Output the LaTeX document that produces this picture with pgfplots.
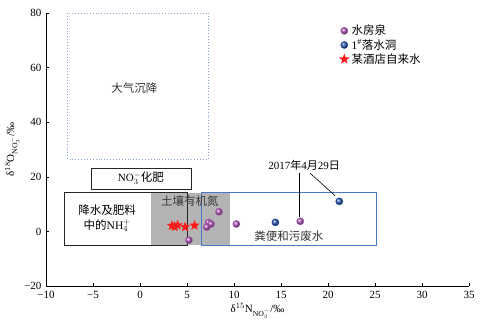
\documentclass[border=0pt]{standalone}
\usepackage{pgfplots}
\pgfplotsset{compat=1.18}
\usepackage{fontspec}
\setmainfont{Liberation Serif}
\newfontfamily\cjk{Noto Sans CJK SC}
\definecolor{pur}{HTML}{B05CB8}
\definecolor{blu}{HTML}{2A58B0}
\definecolor{boxblue}{HTML}{4A78C8}
\definecolor{dotblue}{HTML}{8AA4D4}
\definecolor{grayfill}{HTML}{B4B4B4}
\pgfdeclareplotmark{fstar}{%
 \pgfpathmoveto{\pgfpointpolar{90}{\pgfplotmarksize}}%
 \pgfpathlineto{\pgfpointpolar{126}{0.42\pgfplotmarksize}}%
 \pgfpathlineto{\pgfpointpolar{162}{\pgfplotmarksize}}%
 \pgfpathlineto{\pgfpointpolar{198}{0.42\pgfplotmarksize}}%
 \pgfpathlineto{\pgfpointpolar{234}{\pgfplotmarksize}}%
 \pgfpathlineto{\pgfpointpolar{270}{0.42\pgfplotmarksize}}%
 \pgfpathlineto{\pgfpointpolar{306}{\pgfplotmarksize}}%
 \pgfpathlineto{\pgfpointpolar{342}{0.42\pgfplotmarksize}}%
 \pgfpathlineto{\pgfpointpolar{18}{\pgfplotmarksize}}%
 \pgfpathlineto{\pgfpointpolar{54}{0.42\pgfplotmarksize}}%
 \pgfpathclose\pgfusepathqfill}
\begin{document}
\begin{tikzpicture}
\begin{axis}[
 width=423pt, height=273pt, scale only axis,
 xmin=-10, xmax=35, ymin=-20, ymax=80,
 axis x line*=bottom, axis y line*=left,
 axis line style={black, line width=0.6pt},
 xtick={-10,-5,...,35}, xticklabels={−10,−5,0,5,10,15,20,25,30,35},
 ytick={-20,0,...,80}, yticklabels={−20,0,20,40,60,80},
 tick align=inside, major tick length=3pt,
 tick style={black, line width=0.6pt},
 font=\fontsize{11}{13}\selectfont,
 xticklabel style={yshift=-2pt},
 yticklabel style={xshift=-1pt},
 xlabel={δ$^{15}$N$_{\mathrm{NO}_3^-}$/‰},
 ylabel={δ$^{18}$O$_{\mathrm{NO}_3^-}$/‰},
 xlabel style={yshift=2pt},
 ylabel style={yshift=-2pt},
 legend style={draw=none, fill=none, at={(0.69,0.967)}, anchor=north west,
   font=\fontsize{11.5}{13}\selectfont, row sep=-1pt, inner sep=1pt},
 legend cell align=left,
 clip=false
]
% regions
\fill[grayfill] (axis cs:1.2,-5) rectangle (axis cs:9.6,14.2);
\draw[dotblue, line width=0.9pt, dotted] (axis cs:-7.7,26.5) rectangle (axis cs:7.3,80);
\draw[black!85, line width=0.8pt] (axis cs:-5.2,15.5) rectangle (axis cs:5.5,23.2);
\draw[black!85, line width=0.8pt] (axis cs:-8,-5) rectangle (axis cs:5.0,14.2);
\draw[boxblue, line width=0.8pt] (axis cs:6.5,-5) rectangle (axis cs:25.2,14.2);
% annotation lines
\draw[black, line width=0.6pt] (axis cs:16.95,21.3) -- (axis cs:16.95,5.4);
\draw[black, line width=0.6pt] (axis cs:18.1,21.3) -- (axis cs:20.75,13.1);
% labels
\node[font=\cjk\fontsize{11.5}{13}\selectfont, text=black!80] at (axis cs:-0.6,52.5) {大气沉降};
\node[font=\fontsize{11}{13}\selectfont] at (axis cs:0.1,19.4) {NO$_3^-${\cjk\fontsize{11.5}{13}\selectfont 化肥}};
\node[font=\fontsize{11.5}{15}\selectfont, align=center] at (axis cs:-3.5,4.8) {{\cjk 降水及肥料}\\{\cjk 中的}NH$_4^+$};
\node[font=\cjk\fontsize{11.5}{13}\selectfont, text=black!78] at (axis cs:5.3,11.1) {土壤有机氮};
\node[font=\cjk\fontsize{11.5}{13}\selectfont, text=black!80] at (axis cs:15.85,-1.7) {粪便和污废水};
\node[font=\fontsize{11}{13}\selectfont] at (axis cs:17.45,24.1) {2017{\cjk 年}4{\cjk 月}29{\cjk 日}};
% data
\addplot[only marks, mark=ball, ball color=pur, color=pur, mark size=3.6pt]
 coordinates {(17.05,3.7) (10.25,2.7) (8.4,7.2) (7.3,3.3) (7.55,2.7) (7.1,1.6) (5.2,-3.2)};
\addlegendentry{{\cjk 水房泉}}
\addplot[only marks, mark=ball, ball color=blu, color=blu, mark size=3.6pt]
 coordinates {(21.2,11.0) (14.4,3.3)};
\addlegendentry{1$^{\#}${\cjk 落水洞}}
\addplot[only marks, mark=fstar, color=red!90!white, mark size=5.5pt]
 coordinates {(3.4,2.1) (3.7,1.7) (4.0,2.3) (4.8,1.6) (5.8,2.2)};
\addlegendentry{{\cjk 某酒店自来水}}
\end{axis}
\pgfresetboundingbox
\path[use as bounding box] (current axis.south west) ++(-46pt,-43pt) rectangle ++(481pt,329pt);
\end{tikzpicture}
\end{document}
